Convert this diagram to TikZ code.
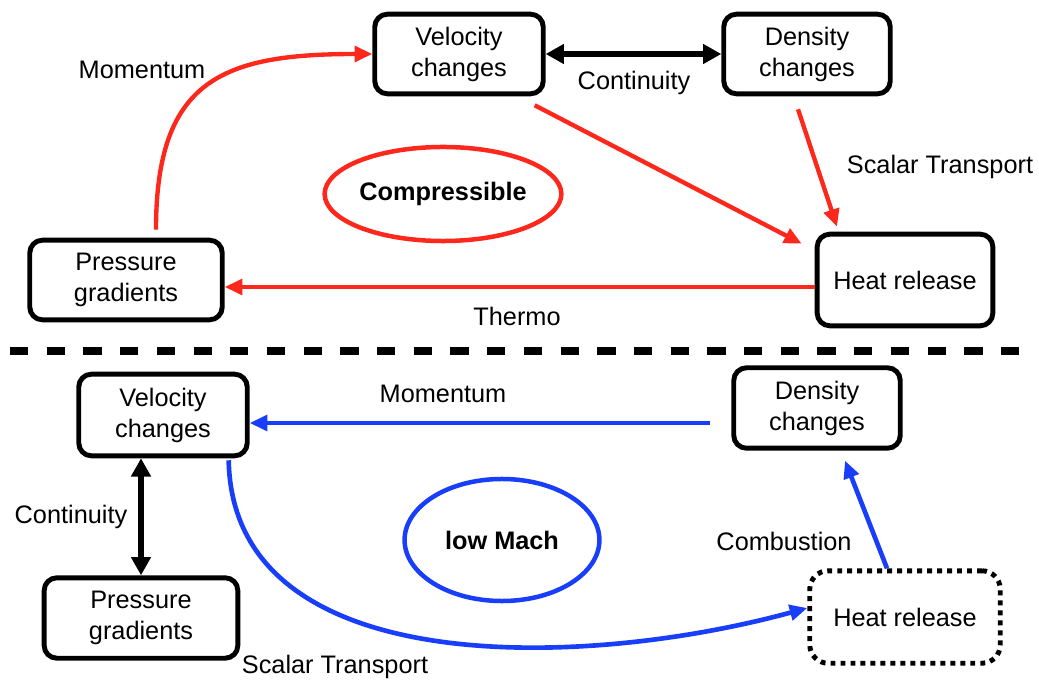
\documentclass[tikz,border=0pt]{standalone}
\usepackage{fontspec}
\setmainfont{Liberation Sans}
\usetikzlibrary{arrows.meta,shapes.geometric}
\definecolor{flowred}{RGB}{252,40,28}
\definecolor{flowblue}{RGB}{24,62,250}
\begin{document}
\begin{tikzpicture}[x=0.025cm,y=-0.025cm,
  every node/.style={font=\fontsize{18}{22}\selectfont},
  blk/.style={draw,line width=3.5pt,rounded corners=9pt,align=center,inner sep=0pt,minimum height=1.99cm},
  dotblk/.style={blk,dash pattern=on 3.5pt off 3.6pt,rounded corners=13pt},
  oval/.style={ellipse,line width=3.2pt,inner sep=0pt,font=\fontsize{18}{22}\selectfont\bfseries},
  redarr/.style={flowred,line width=3.1pt,-{Triangle[length=12.5pt,width=11pt]}},
  bluarr/.style={flowblue,line width=3.3pt,-{Triangle[length=12.5pt,width=11pt]}},
  dblarr/.style={line width=3.9pt,{Triangle[length=13pt,width=13.5pt]}-{Triangle[length=13pt,width=13.5pt]}}]
\useasboundingbox (0,0) rectangle (1039,681);
\node[blk,minimum width=4.21cm] (vel1) at (459,54) {Velocity\\changes};
\node[blk,minimum width=4.16cm] (den1) at (807,54) {Density\\changes};
\node[blk,minimum width=4.81cm] (pg1) at (126,280) {Pressure\\gradients};
\node[blk,minimum width=4.39cm,minimum height=2.29cm] (hr1) at (905,280) {Heat release};
\node[oval,draw=flowred,minimum width=5.9cm,minimum height=2.35cm] (cmp) at (443,194) {Compressible};
\node (mom1) at (142,70) {Momentum};
\node (con1) at (634,83) {Continuity};
\node (sca1) at (940,167) {Scalar Transport};
\node (thm) at (517,316) {Thermo};
\draw[dblarr] (vel1) -- (den1);
\draw[redarr] ([shift={(30,-8)}]pg1.north) .. controls +(0,-150) and +(-150,0) .. (vel1.west);
\draw[redarr] ([shift={(-11,9)}]vel1.south east) -- ([shift={(-13,12)}]hr1.north west);
\draw[redarr] ([shift={(-9,13)}]den1.south) -- ([shift={(-68,-5)}]hr1.north);
\draw[redarr] ([shift={(0,7)}]hr1.west) -- ([shift={(0,7)}]pg1.east);
\draw[line width=6pt,dash pattern=on 13pt off 13.1pt] (10,351) -- (1020,351);
\node[blk,minimum width=4.21cm,minimum height=2.04cm] (vel2) at (163,415) {Velocity\\changes};
\node[blk,minimum width=4.84cm,minimum height=2.01cm] (pg2) at (141,618) {Pressure\\gradients};
\node[blk,minimum width=4.16cm,minimum height=2.01cm] (den2) at (817,408) {Density\\changes};
\node[dotblk,minimum width=4.76cm,minimum height=2.31cm] (hr2) at (905,617) {Heat release};
\node[oval,draw=flowblue,minimum width=4.87cm,minimum height=3.05cm] (low) at (502,540) {low Mach};
\node (mom2) at (443,394) {Momentum};
\node (con2) at (71,517) {Continuity};
\node (cmb) at (784,541) {Combustion};
\node (sca2) at (335,667) {Scalar Transport};
\draw[dblarr] (pg2.north) -- (pg2.north |- vel2.south);
\draw[bluarr] ([shift={(-21,15)}]den2.west) -- ([shift={(0,8)}]vel2.east);
\draw[bluarr] ([shift={(-21,2)}]vel2.south east) .. controls +(4,220) and +(-227,62) .. ([shift={(0,-9)}]hr2.west);
\draw[bluarr] ([shift={(-18,0)}]hr2.north) -- ([shift={(28,10)}]den2.south);
\end{tikzpicture}
\end{document}
